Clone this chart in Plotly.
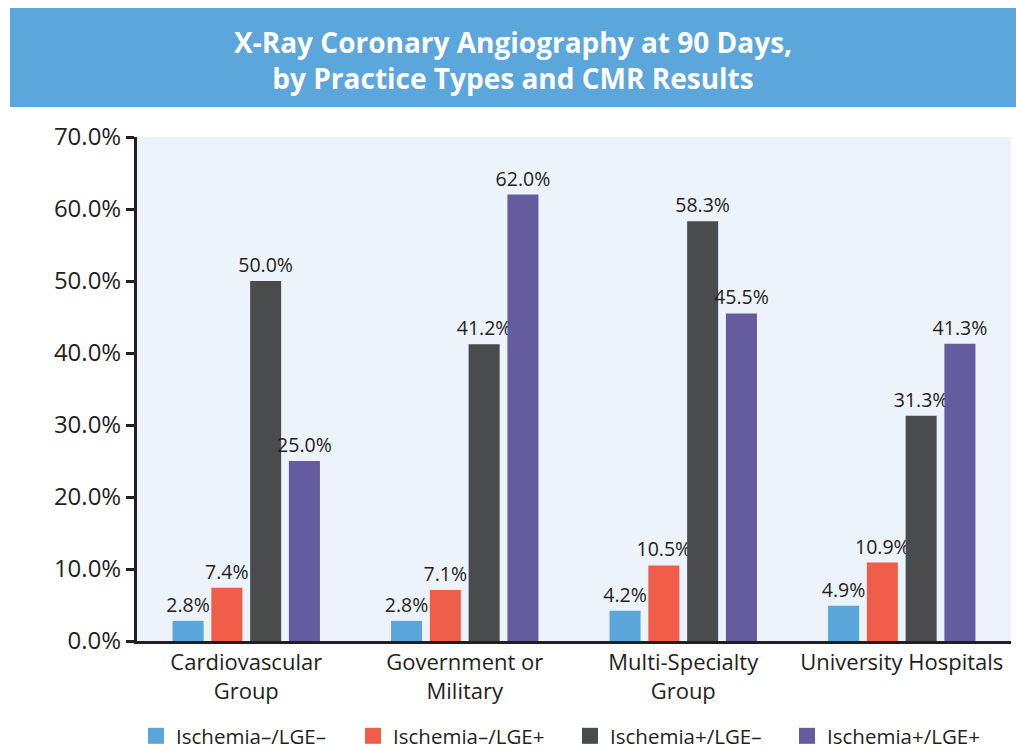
import plotly.graph_objects as go

categories = ["Cardiovascular<br>Group", "Government or<br>Military", "Multi-Specialty<br>Group", "University Hospitals"]
series_names = ["Ischemia–/LGE–", "Ischemia–/LGE+", "Ischemia+/LGE–", "Ischemia+/LGE+"]
isch_neg_lge_neg = [2.8, 2.8, 4.2, 4.9]
isch_neg_lge_pos = [7.4, 7.1, 10.5, 10.9]
isch_pos_lge_neg = [50.0, 41.2, 58.3, 31.3]
isch_pos_lge_pos = [25.0, 62.0, 45.5, 41.3]
colors = ["#5AA5DA", "#F05D48", "#4A4B4D", "#645C9E"]

FONT = "Open Sans"
TXT = "#231F20"

fig = go.Figure()
for name, vals, col in zip(series_names,
                           [isch_neg_lge_neg, isch_neg_lge_pos, isch_pos_lge_neg, isch_pos_lge_pos],
                           colors):
    fig.add_trace(go.Bar(
        x=categories, y=vals, name=name, marker=dict(color=col, line=dict(width=0)),
        texttemplate="%{y:.1f}%", textposition="outside", constraintext="none",
        textfont=dict(family=FONT, size=19.5, color=TXT, weight=500), cliponaxis=False,
        showlegend=False, legendgroup=name,
    ))
# legend entries with larger square swatches
for name, col in zip(series_names, colors):
    fig.add_trace(go.Scatter(
        x=[None], y=[None], mode="markers", name=name, legendgroup=name,
        marker=dict(symbol="square", size=16, color=col, line=dict(width=0)),
        showlegend=True, hoverinfo="skip",
    ))

W, H = 1016, 754
L, R, T, B = 137, 5, 137, 113
pw, ph = W - L - R, H - T - B

def px(x):
    return (x - L) / pw

def py(y):
    return (H - B - y) / ph

fig.add_shape(type="rect", xref="paper", yref="paper",
              x0=px(10), x1=px(1020), y0=py(107), y1=py(8),
              fillcolor="#5BA6DB", line=dict(width=0), layer="below")
fig.add_annotation(xref="paper", yref="paper", x=px(513), y=py(60),
                   text="<b>X-Ray Coronary Angiography at 90 Days,<br>by Practice Types and CMR Results</b>",
                   showarrow=False, font=dict(family=FONT, size=28, color="white"),
                   xanchor="center", yanchor="middle", align="center")

fig.update_layout(
    width=W, height=H,
    margin=dict(l=L, r=R, t=T, b=B, autoexpand=False),
    paper_bgcolor="white", plot_bgcolor="#ECF3FB",
    barmode="group", bargap=0.29, bargroupgap=0.2,
    font=dict(family=FONT, color=TXT),
    showlegend=True,
    legend=dict(orientation="h", x=px(570), xanchor="center", y=py(736), yanchor="middle",
                font=dict(family=FONT, size=20.5, color=TXT, weight=500), entrywidth=172,
                itemsizing="trace", bgcolor="rgba(0,0,0,0)", tracegroupgap=0),
    xaxis=dict(showgrid=False, showline=True, linecolor=TXT, linewidth=3,
               ticks="", tickfont=dict(family=FONT, size=22, color=TXT)),
    yaxis=dict(range=[0, 70], dtick=10, tickformat=".1f", ticksuffix="%",
               showgrid=False, zeroline=False, showline=True, linecolor=TXT, linewidth=3,
               ticks="outside", ticklen=8, tickwidth=3, tickcolor=TXT,
               tickfont=dict(family=FONT, size=24, color=TXT)),
)

fig.write_html("out.html", config={"displayModeBar": False},
               post_script="document.body.style.margin='0px';document.body.style.overflow='hidden';")
